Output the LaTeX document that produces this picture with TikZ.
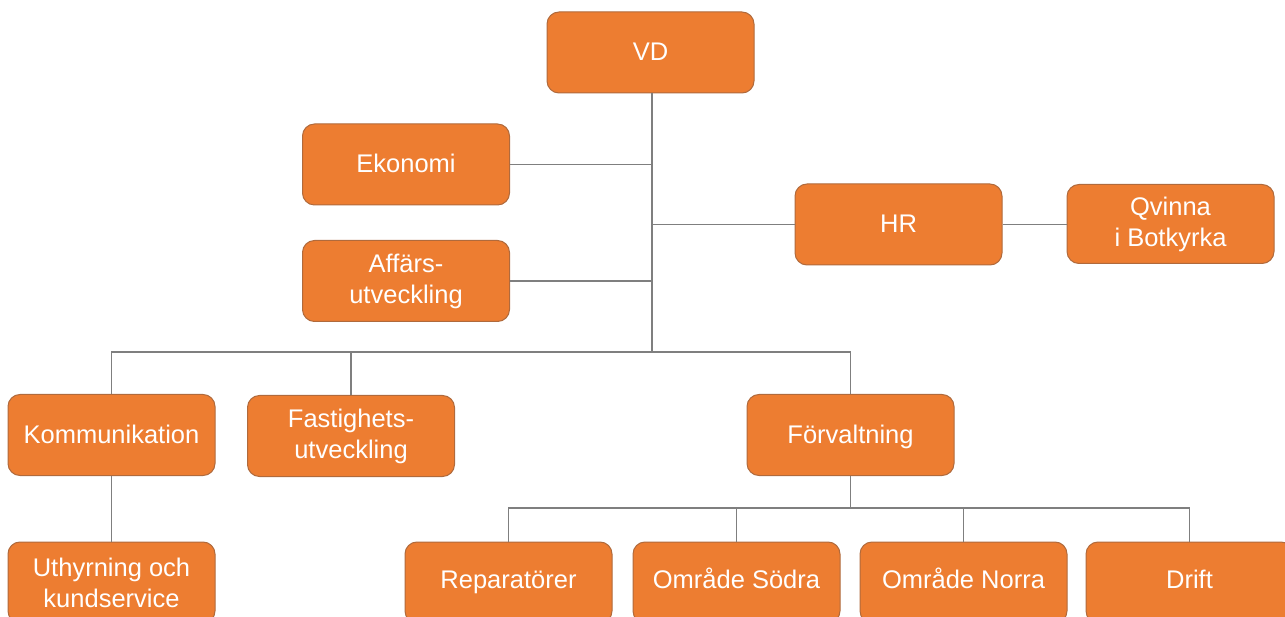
\documentclass[tikz,border=0pt]{standalone}
\usepackage{fontspec}
\setmainfont{Liberation Sans}
\definecolor{boxfill}{HTML}{ED7D31}
\definecolor{boxedge}{HTML}{B06A3C}
\definecolor{linec}{HTML}{7F7F7F}
\begin{document}
\begin{tikzpicture}[x=1pt,y=-1pt,
  box/.style={draw=boxedge,line width=1pt,fill=boxfill,rounded corners=12pt,
    minimum width=207pt,minimum height=81pt,text=white,align=center,
    font=\fontsize{25.5}{31}\selectfont,inner sep=2pt},
  one/.style={text height=21pt,text depth=4pt},
  low/.style={text height=21pt,text depth=9pt},
  conn/.style={draw=linec,line width=1.5pt}]
\useasboundingbox (0,0) rectangle (1285,617);
\clip (0,0) rectangle (1285,617);
\node[box,one] (vd) at (650.5,52.5) {VD};
\node[box,one] (eko) at (406,164.5) {Ekonomi};
\node[box,one] (hr) at (898.5,224.5) {HR};
\node[box,minimum height=79pt] (qv) at (1170.5,224) {Qvinna\\i Botkyrka};
\node[box] (aff) at (406,281) {Affärs-\\utveckling};
\node[box,one] (kom) at (111.5,435) {Kommunikation};
\node[box] (fast) at (351,436) {Fastighets-\\utveckling};
\node[box,one] (forv) at (850.5,435) {Förvaltning};
\node[box] (uth) at (111.5,582.5) {Uthyrning och\\kundservice};
\node[box,low] (rep) at (508.5,582.5) {Reparatörer};
\node[box,low] (sod) at (736.5,582.5) {Område Södra};
\node[box,low] (nor) at (963.5,582.5) {Område Norra};
\node[box,low] (dri) at (1189.5,582.5) {Drift};
\coordinate (bus) at (652,352);
\coordinate (bus2) at (850.5,508);
\draw[conn] (vd.south -| bus) -- (bus);
\draw[conn] (eko.east) -- (eko.east -| bus);
\draw[conn] (aff.east) -- (aff.east -| bus);
\draw[conn] (hr.west -| bus) -- (hr.west);
\draw[conn] (hr.east) -- (hr.east -| qv.west);
\draw[conn] (kom.north) |- (bus) -| (forv.north);
\draw[conn] (fast.north) -- (fast.north |- bus);
\draw[conn] (kom.south) -- (uth.north);
\draw[conn] (forv.south) -- (bus2);
\draw[conn] (rep.north) |- (bus2) -| (dri.north);
\draw[conn] (sod.north) -- (sod.north |- bus2);
\draw[conn] (nor.north) -- (nor.north |- bus2);
\end{tikzpicture}
\end{document}
